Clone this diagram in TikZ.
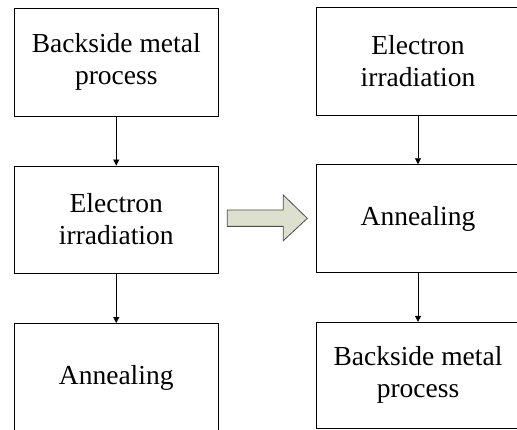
\documentclass[tikz,border=0pt]{standalone}
\usepackage{fontspec}
\setmainfont{Liberation Serif}
\usetikzlibrary{arrows.meta}
\definecolor{arrowfill}{HTML}{DDE0CC}
\definecolor{arrowline}{HTML}{4A4A4A}
\tikzset{
  stepbox/.style={draw=black, line width=0.9pt, minimum width=203.5pt, minimum height=108pt,
    inner sep=0pt, align=center, font=\fontsize{27.5}{32}\selectfont},
  flow/.style={draw=black, line width=0.8pt, -{Triangle[length=6pt,width=6pt]}}
}
\begin{document}
\begin{tikzpicture}[x=1pt,y=-1pt]
\useasboundingbox (0,0) rectangle (517,430);
\begin{scope}
\clip (0,0) rectangle (517,430);
\node[stepbox] (l1) at (116.25,62) {Backside metal\\process};
\node[stepbox, minimum height=107pt] (l2) at (116.25,219.5) {Electron\\irradiation};
\node[stepbox, minimum height=108pt] (l3) at (116.25,377.5) {\raisebox{6pt}{Annealing}};
\node[stepbox, minimum height=107.5pt] (r1) at (418,61.5) {Electron\\irradiation};
\node[stepbox, minimum height=107.5pt] (r2) at (418,218.5) {Annealing};
\node[stepbox, minimum height=106pt] (r3) at (418,375.3) {Backside metal\\process};
\end{scope}
\draw[flow] (l1.south) -- (l2.north);
\draw[flow] (l2.south) -- (l3.north);
\draw[flow] (r1.south) -- (r2.north);
\draw[flow] (r2.south) -- (r3.north);
\coordinate (ba) at (227.3,218.4);
\draw[fill=arrowfill, draw=arrowline, line width=0.8pt, line join=miter]
  (ba) ++(0,-8.4) -- ++(56,0) -- ++(0,-15) -- (307.3,218.4) -- (283.3,240.7) -- ++(0,-14.3) -- (227.3,226.4) -- cycle;
\end{tikzpicture}
\end{document}
